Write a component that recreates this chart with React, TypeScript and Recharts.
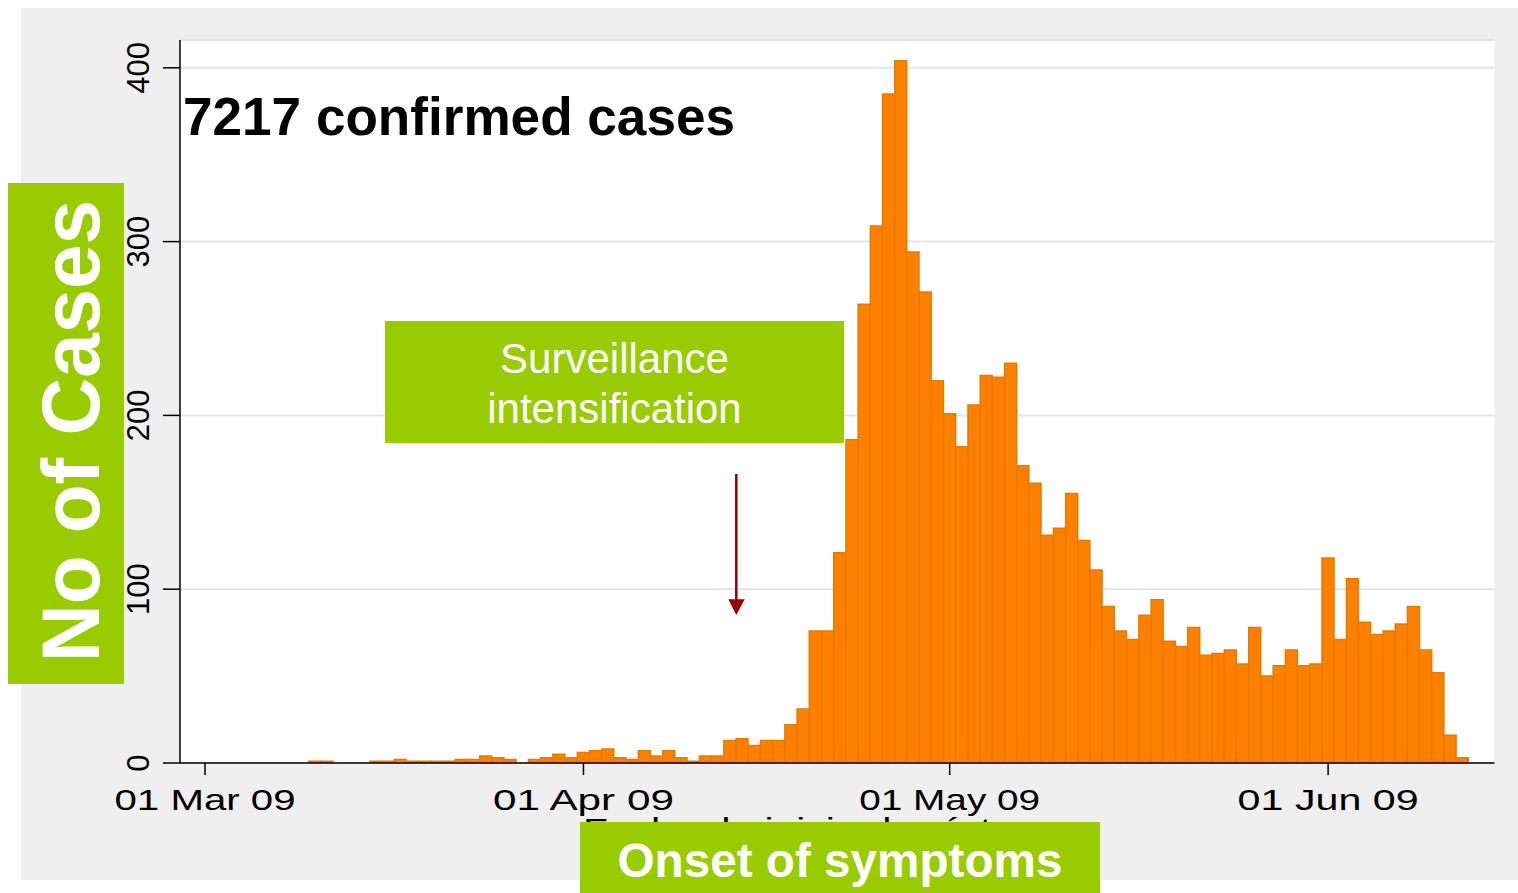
import { BarChart, Bar, XAxis, YAxis, CartesianGrid } from 'recharts';

// daily confirmed cases by onset date, index 0 = 01 Mar 09
const cases = [
  0, 0, 0, 0, 0, 0, 0, 0, 0, 1,
  1, 0, 0, 0, 1, 1, 2, 1, 1, 1,
  1, 2, 2, 4, 3, 2, 0, 2, 3, 5,
  3, 6, 7, 8, 3, 2, 7, 4, 7, 3,
  1, 4, 4, 13, 14, 10, 13, 13, 22, 31,
  76, 76, 121, 186, 264, 309, 385, 404, 294, 271,
  220, 201, 182, 206, 223, 222, 230, 171, 161, 131,
  135, 155, 128, 111, 90, 76, 71, 85, 94, 70,
  67, 78, 62, 63, 65, 57, 78, 50, 56, 65,
  56, 57, 118, 71, 106, 81, 74, 76, 80, 90,
  65, 52, 16, 3,
];

const tickDays = [0, 31, 61, 92];
const tickLabels = ['01 Mar 09', '01 Apr 09', '01 May 09', '01 Jun 09'];
const yTicks = [0, 100, 200, 300, 400];

const data = cases.map((v, i) => ({ day: i, cases: v }));

const FONT = '"Liberation Sans", Arial, sans-serif';

function XTick(props: any) {
  const { x, y, payload } = props;
  const idx = tickDays.indexOf(payload.value);
  return (
    <text
      x={x}
      y={y + 35}
      textAnchor="middle"
      fontFamily={FONT}
      fontSize={30}
      fill="#000"
      textLength={181}
      lengthAdjust="spacingAndGlyphs"
    >
      {tickLabels[idx]}
    </text>
  );
}

function YTick(props: any) {
  const { x, y, payload } = props;
  const tx = x - 14;
  return (
    <text
      x={tx}
      y={y}
      transform={`rotate(-90 ${tx} ${y})`}
      textAnchor="middle"
      fontFamily={FONT}
      fontSize={31}
      fill="#000"
    >
      {payload.value}
    </text>
  );
}

export default function App() {
  return (
    <div style={{ position: 'absolute', left: 0, top: 0, width: 1518, height: 893, background: '#fff', fontFamily: FONT }}>
      <div style={{ position: 'absolute', left: 21, top: 8, width: 1497, height: 872, background: '#efefef' }} />
      <div style={{ position: 'absolute', left: 0, top: 0 }}>
        <BarChart
          width={1518}
          height={893}
          data={data}
          margin={{ top: 40, right: 23.5, bottom: 90, left: 120 }}
          barCategoryGap={0}
        >
          <CartesianGrid vertical={false} stroke="#e4e4e4" strokeWidth={2} fill="#fff" />
          <XAxis
            type="number"
            dataKey="day"
            domain={[-2.05, 105.63]}
            allowDataOverflow
            ticks={tickDays}
            interval={0}
            height={40}
            tickSize={12}
            tickMargin={0}
            axisLine={{ stroke: '#000', strokeWidth: 1.5 }}
            tickLine={{ stroke: '#000', strokeWidth: 1.5 }}
            tick={<XTick />}
          />
          <YAxis
            domain={[0, 416]}
            allowDataOverflow
            ticks={yTicks}
            interval={0}
            width={60}
            tickSize={17}
            tickMargin={0}
            axisLine={{ stroke: '#000', strokeWidth: 1.5 }}
            tickLine={{ stroke: '#000', strokeWidth: 1.5 }}
            tick={<YTick />}
          />
          <Bar
            dataKey="cases"
            fill="#ff8000"
            stroke="#e27c00"
            strokeWidth={1.5}
            isAnimationActive={false}
          />
        </BarChart>
      </div>
      <svg
        width={1518}
        height={893}
        style={{ position: 'absolute', left: 0, top: 0, pointerEvents: 'none' }}
      >
        {/* axis title, mostly hidden under the green box */}
        <text x={837} y={839} textAnchor="middle" fontFamily={FONT} fontSize={30} fill="#000" textLength={508} lengthAdjust="spacingAndGlyphs">
          Fecha de inicio de síntomas
        </text>
        <text x={183} y={135} fontFamily={FONT} fontSize={53} fontWeight="bold" fill="#000" textLength={552} lengthAdjust="spacingAndGlyphs">
          7217 confirmed cases
        </text>

        <rect x={8} y={183} width={116} height={501} fill="#99cc00" />
        <text x={99} y={431} transform="rotate(-90 99 431)" textAnchor="middle" fontFamily={FONT} fontSize={82} fontWeight="bold" fill="#fff" textLength={462} lengthAdjust="spacingAndGlyphs">
          No of Cases
        </text>

        <rect x={385} y={321} width={459} height={122} fill="#99cc00" />
        <text x={614.5} y={373} textAnchor="middle" fontFamily={FONT} fontSize={42} fill="#fff">
          Surveillance
        </text>
        <text x={614.5} y={423} textAnchor="middle" fontFamily={FONT} fontSize={42} fill="#fff">
          intensification
        </text>

        <line x1={736.3} y1={474} x2={736.3} y2={602} stroke="#990000" strokeWidth={2.5} />
        <polygon points="728.3,599.3 744.7,599.3 736.3,615" fill="#990000" />

        <rect x={580} y={822} width={520} height={71} fill="#99cc00" />
        <text x={840} y={877} textAnchor="middle" fontFamily={FONT} fontSize={48} fontWeight="bold" fill="#fff" textLength={445} lengthAdjust="spacingAndGlyphs">
          Onset of symptoms
        </text>
      </svg>
    </div>
  );
}
